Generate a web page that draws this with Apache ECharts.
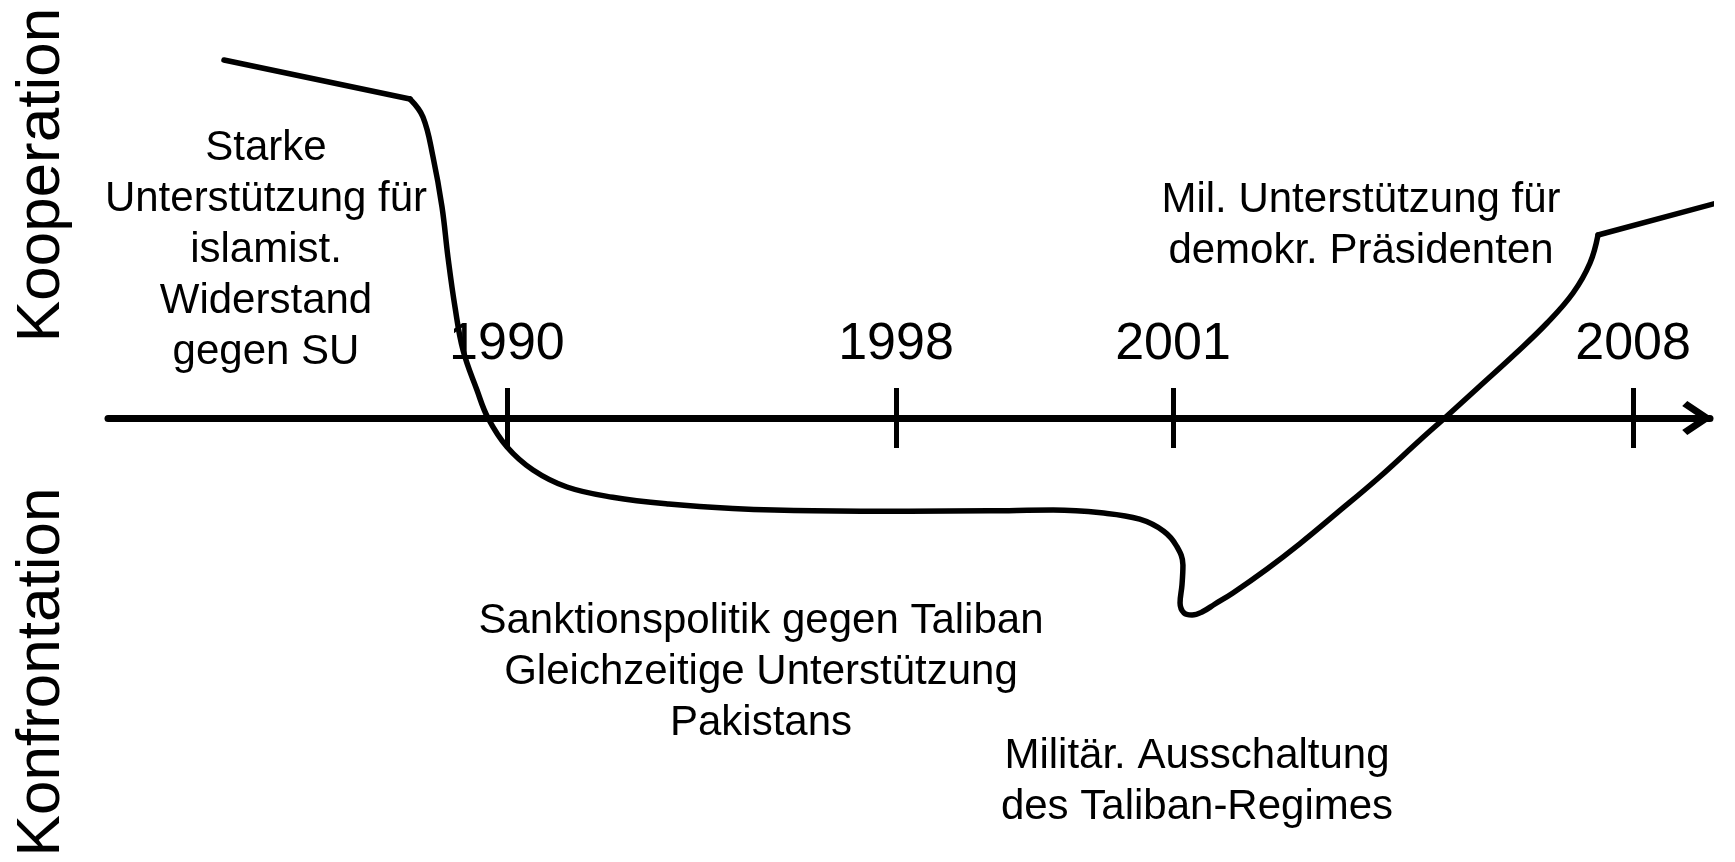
<!DOCTYPE html>
<html>
<head>
<meta charset="utf-8">
<title>Kooperation / Konfrontation</title>
<script src="https://cdn.jsdelivr.net/npm/echarts@6/dist/echarts.min.js"></script>
<style>
  html, body { margin: 0; padding: 0; background: #fff; }
  #chart { width: 1735px; height: 862px; }
</style>
</head>
<body>
<div id="chart"></div>
<script>
// Zeitachse: Position der Striche (Achseneinheiten 0..100) und ihre Jahreszahlen
var tickPos = [24.9, 49.19, 66.48, 95.2];
var tickYears = ['1990', '1998', '2001', '2008'];

// Verlauf: x = Position auf der Zeitachse, y = Kooperation (+) / Konfrontation (-)
var leadIn = [[7.24, 8.95], [18.85, 7.975]];
var mainCurve = [
  [18.85, 7.975], [19.66, 7.525], [20.29, 6.525], [20.85, 5.275], [21.22, 4.025],
  [21.66, 2.775], [22.16, 1.7], [23.03, 0.7], [23.72, 0], [24.91, -0.725],
  [26.53, -1.3], [28.65, -1.725], [31.5, -1.98], [35.0, -2.15], [39.0, -2.26],
  [44.0, -2.32], [50.0, -2.33], [55.0, -2.32], [59.0, -2.3], [62.0, -2.37],
  [64.4, -2.53], [65.9, -2.83], [66.7, -3.2], [67.1, -3.675], [67.04, -4.175],
  [66.92, -4.625], [67.17, -4.875], [67.67, -4.925], [68.29, -4.85], [69.1, -4.65],
  [70.22, -4.375], [72.35, -3.775], [74.41, -3.14], [76.7, -2.38], [79.3, -1.5],
  [81.9, -0.55], [83.58, 0.05], [85.64, 0.8], [87.83, 1.6], [89.83, 2.375],
  [91.45, 3.125], [92.51, 3.875], [93.01, 4.575]
];
var leadOut = [[93.01, 4.575], [101.12, 5.45]];

// Beschriftungen
var notes = [
  'Starke\nUnterstützung für\nislamist.\nWiderstand\ngegen SU',
  'Sanktionspolitik gegen Taliban\nGleichzeitige Unterstützung\nPakistans',
  'Militär. Ausschaltung\ndes Taliban-Regimes',
  'Mil. Unterstützung für\ndemokr. Präsidenten'
];
var axisTitles = ['Kooperation', 'Konfrontation'];

var chart = echarts.init(document.getElementById('chart'));
var FONT = '"Liberation Sans", Arial, Helvetica, sans-serif';

function lineSeries(data, smooth) {
  return {
    type: 'line',
    data: data,
    smooth: smooth,
    symbol: 'none',
    clip: false,
    silent: true,
    z: 5,
    lineStyle: { color: '#000', width: 5.5, cap: 'round', join: 'round' }
  };
}

function noteText(text, x, y) {
  return {
    type: 'text', x: x, y: y, silent: true,
    style: {
      text: text, fill: '#000', font: '42px ' + FONT, lineHeight: 51,
      align: 'center', verticalAlign: 'middle',
      textAlign: 'center', textVerticalAlign: 'middle'
    }
  };
}

function titleText(text, x, y) {
  return {
    type: 'text', x: x, y: y, rotation: Math.PI / 2, silent: true,
    style: {
      text: text, fill: '#000', font: '62px ' + FONT,
      align: 'center', verticalAlign: 'middle',
      textAlign: 'center', textVerticalAlign: 'middle'
    }
  };
}

var chevron = 'path://M20,0 L40,30 L34,36 L20,15 L6,36 L0,30 Z';

var option = {
  backgroundColor: '#fff',
  animation: false,
  grid: { left: 108, right: 25, top: 18, bottom: 44, containLabel: false, outerBoundsMode: 'none' },
  xAxis: [
    {
      type: 'value', min: 0, max: 100, position: 'bottom',
      axisLine: {
        onZero: true,
        onZeroAxisIndex: 0,
        lineStyle: { color: '#000', width: 7 },
        symbol: ['none', chevron],
        symbolSize: [34, 31],
        symbolOffset: [0, -12.5]
      },
      axisTick: { show: true, customValues: tickPos, length: 30, lineStyle: { color: '#000', width: 5 } },
      // labels are laid out from the grid edge, so the margin reaches up past the zero line
      axisLabel: {
        show: true,
        inside: true,
        customValues: tickPos,
        margin: 447,
        color: '#000',
        fontSize: 52,
        fontFamily: FONT,
        formatter: function (v) {
          var i = tickPos.indexOf(v);
          return i >= 0 ? tickYears[i] : '';
        }
      },
      splitLine: { show: false }
    },
    {
      type: 'value', min: 0, max: 100, position: 'top',
      axisLine: { onZero: true, onZeroAxisIndex: 0, show: false },
      axisTick: { show: true, customValues: tickPos, length: 30, lineStyle: { color: '#000', width: 5 } },
      axisLabel: { show: false },
      splitLine: { show: false }
    }
  ],
  yAxis: {
    type: 'value', min: -10, max: 10, show: false,
    splitLine: { show: false }
  },
  series: [
    lineSeries(leadIn, false),
    lineSeries(mainCurve, 0.4),
    lineSeries(leadOut, false)
  ],
  graphic: [
    titleText(axisTitles[0], 42, 175),
    titleText(axisTitles[1], 42, 672),
    noteText(notes[0], 266, 250),
    noteText(notes[1], 761, 672),
    noteText(notes[2], 1197, 782),
    noteText(notes[3], 1361, 226)
  ]
};

chart.setOption(option);
window.addEventListener('resize', function () { chart.resize(); });
</script>
</body>
</html>
